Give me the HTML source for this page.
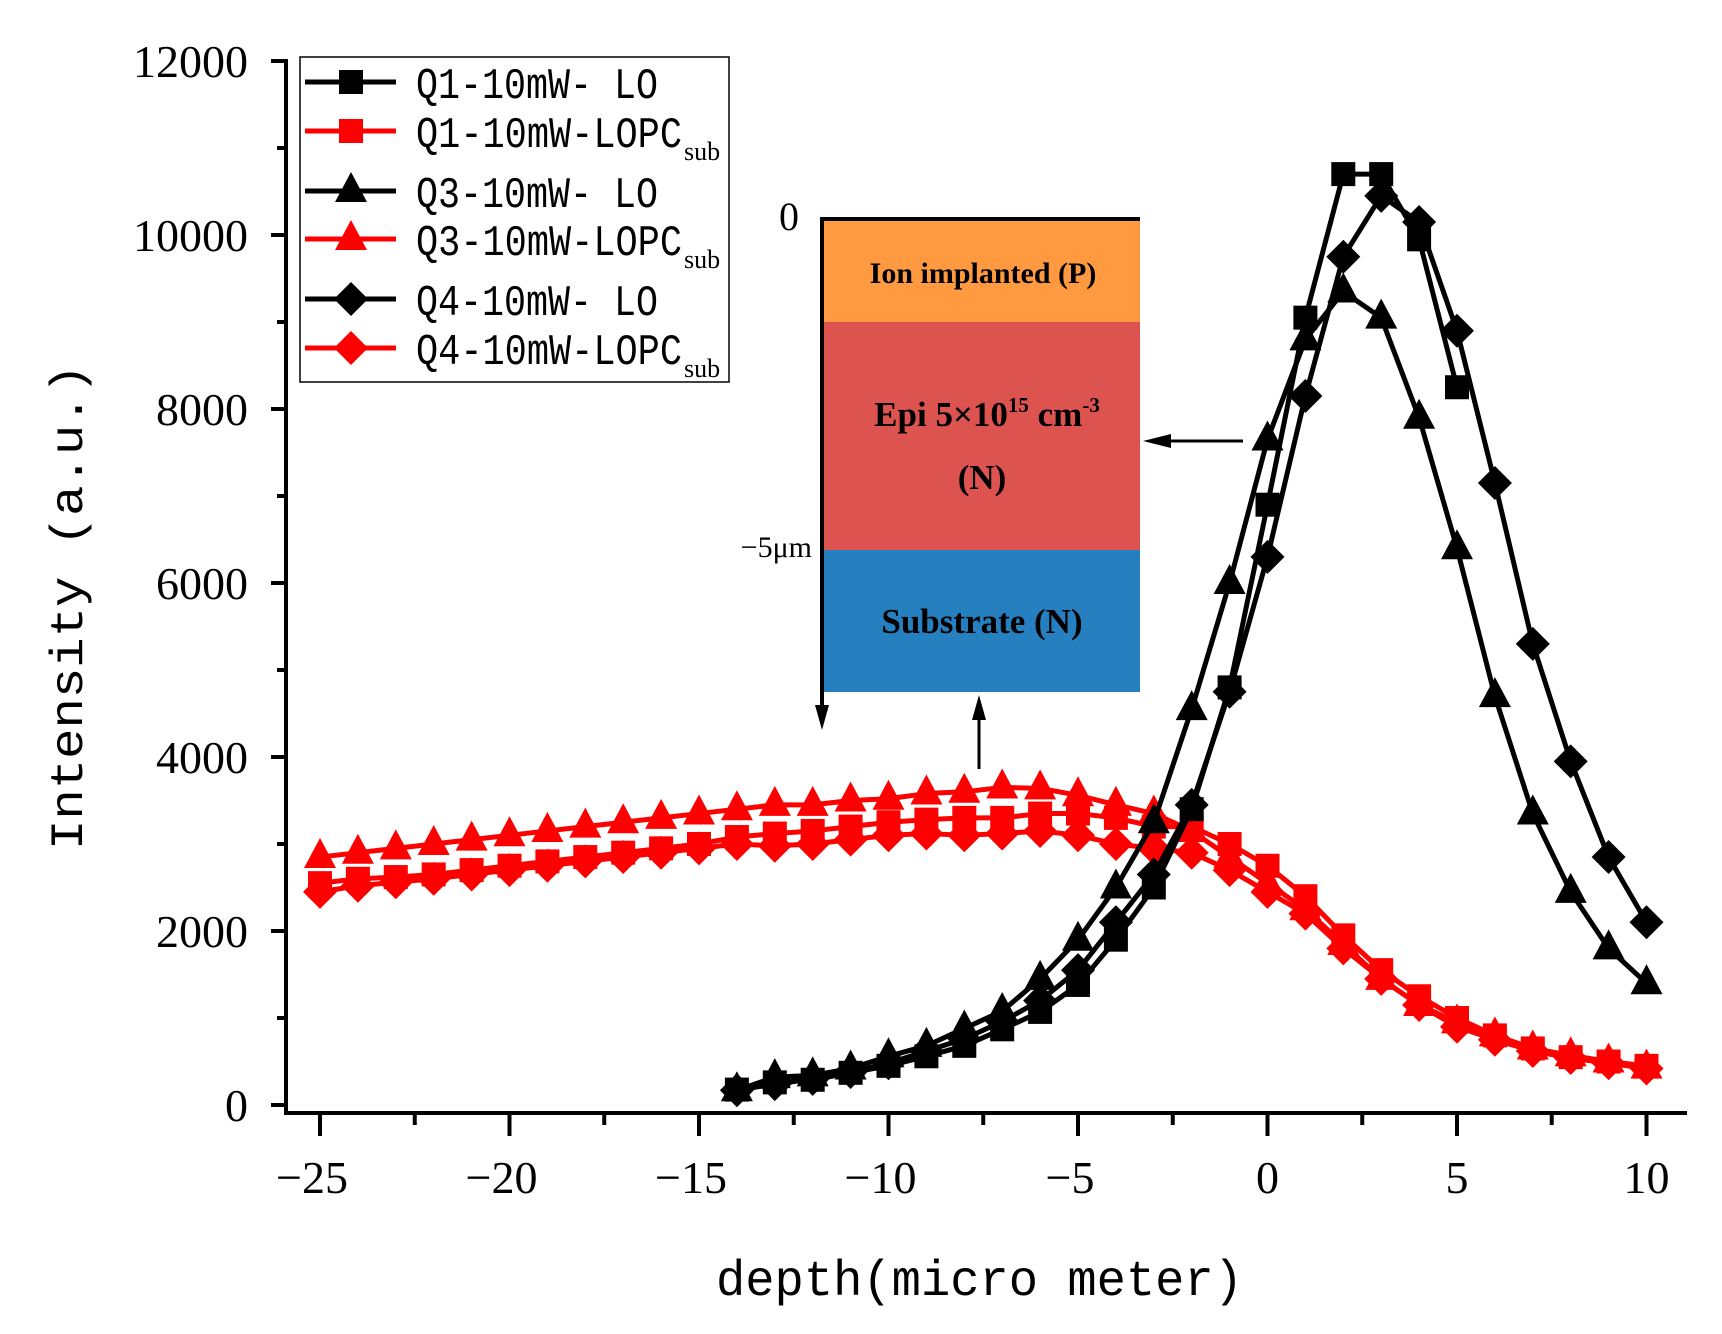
<!DOCTYPE html>
<html><head><meta charset="utf-8"><style>
html,body{margin:0;padding:0;background:#fff;}
svg{display:block;}
</style></head><body>
<svg id="chart" width="1722" height="1334" viewBox="0 0 1722 1334" xmlns="http://www.w3.org/2000/svg" font-family="'Liberation Serif', serif">
<g id="inset">
  <rect x="822" y="217" width="318" height="105" fill="#FF9A40"/>
  <rect x="822" y="322" width="318" height="228" fill="#DC5350"/>
  <rect x="822" y="550" width="318" height="142" fill="#2680C0"/>
  <line x1="820" y1="219" x2="1140" y2="219" stroke="#000" stroke-width="4"/>
  <line x1="822" y1="217" x2="822" y2="712" stroke="#000" stroke-width="4"/>
  <polygon points="815,705 829,705 822,730" fill="#000"/>
  <text x="789" y="230" font-size="40" text-anchor="middle">0</text>
  <text x="812" y="557" font-size="30" text-anchor="end">−5μm</text>
  <text x="983" y="283" font-size="30" font-weight="bold" text-anchor="middle">Ion implanted (P)</text>
  <text x="987" y="426" font-size="35" font-weight="bold" text-anchor="middle">Epi 5×10<tspan font-size="21" dy="-14">15</tspan><tspan dy="14"> cm</tspan><tspan font-size="21" dy="-14">-3</tspan></text>
  <text x="982" y="489" font-size="35" font-weight="bold" text-anchor="middle">(N)</text>
  <text x="982" y="633" font-size="35" font-weight="bold" text-anchor="middle">Substrate (N)</text>
  <line x1="1243" y1="441" x2="1158" y2="441" stroke="#000" stroke-width="3"/>
  <polygon points="1143,441 1171,434 1171,448" fill="#000"/>
  <line x1="979" y1="769" x2="979" y2="710" stroke="#000" stroke-width="3"/>
  <polygon points="979,695 972,720 986,720" fill="#000"/>
</g>
<g id="axes"></g>
<g id="series"></g>
<g id="legend"></g>
</svg>
<script>
const xTicks = [-25,-20,-15,-10,-5,0,5,10];
const yTicks = [0,2000,4000,6000,8000,10000,12000];
const xBlack = [-14,-13,-12,-11,-10,-9,-8,-7,-6,-5,-4,-3,-2,-1,0,1,2,3,4,5,6,7,8,9,10];
const xRed = [-25,-24,-23,-22,-21,-20,-19,-18,-17,-16,-15,-14,-13,-12,-11,-10,-9,-8,-7,-6,-5,-4,-3,-2,-1,0,1,2,3,4,5,6,7,8,9,10];
const q1LO = [177,260,290,370,450,560,680,870,1070,1380,1900,2500,3400,4800,6900,9050,10700,10700,9950,8250];
const q3LO = [170,320,340,420,560,680,880,1080,1450,1900,2500,3250,4550,6000,7650,8800,9350,9050,7900,6400,4700,3350,2450,1800,1400];
const q4LO = [170,240,300,380,480,620,760,960,1200,1550,2100,2650,3450,4750,6300,8150,9750,10450,10150,8900,7150,5300,3950,2850,2100];
const q3LOPC = [2850,2900,2950,3000,3050,3100,3150,3200,3250,3300,3350,3400,3450,3450,3500,3520,3580,3600,3650,3640,3560,3450,3350,3150,2850,2550,2250,1850,1450,1150,950,800,650,570,500,430];
const q1LOPC = [2550,2600,2620,2650,2700,2750,2800,2850,2900,2950,3000,3080,3120,3150,3200,3250,3280,3300,3300,3350,3350,3300,3200,3200,3000,2750,2400,1950,1550,1250,1000,800,650,550,500,450];
const q4LOPC = [2450,2520,2560,2600,2650,2700,2750,2800,2850,2900,2950,3000,2980,3000,3050,3100,3120,3100,3120,3150,3100,3000,2950,2900,2700,2450,2200,1800,1450,1150,900,750,620,540,480,420];
const legendLabels = ["Q1-10mW- LO","Q1-10mW-LOPC","Q3-10mW- LO","Q3-10mW-LOPC","Q4-10mW- LO","Q4-10mW-LOPC"];

const NS="http://www.w3.org/2000/svg";
const X = v => 1267.5 + v*37.9;
const Y = v => 1105 - v*0.087;
function mk(tag, parent, attrs){const e=document.createElementNS(NS,tag);for(const k in attrs)e.setAttribute(k,attrs[k]);parent.appendChild(e);return e;}

const axes=document.getElementById('axes');
let el;
el=mk('line',axes,{x1:286,y1:59,x2:286,y2:1115,stroke:'#000','stroke-width':4});


el=mk('line',axes,{x1:284,y1:1113,x2:1687,y2:1113,stroke:'#000','stroke-width':4});


for(let v=0; v<=12000; v+=1000){
  const major = v%2000===0;
  el=mk('line',axes,{x1:major?271:277,y1:Y(v),x2:286,y2:Y(v),stroke:'#000','stroke-width':4});
  
  
}
yTicks.forEach(v=>{
  el=mk('text',axes,{x:248,y:Y(v)+16,'font-size':46,'text-anchor':'end'});
  el.textContent=v;
  
  
});
for(let v=-25; v<=10; v+=2.5){
  const major = v%5===0;
  el=mk('line',axes,{x1:X(v),y1:1113,x2:X(v),y2:major?1136:1125,stroke:'#000','stroke-width':4});
  
  
}
xTicks.forEach(v=>{
  el=mk('text',axes,{x:X(v)-(v<0?8:0),y:1193,'font-size':46,'text-anchor':'middle'});
  el.textContent=v<0?('−'+(-v)):String(v);
  
  
});
el=mk('text',axes,{x:716,y:1295,'font-size':50,'font-family':"'Liberation Mono', monospace",textLength:527,lengthAdjust:'spacingAndGlyphs'});
el.textContent='depth(micro meter)';


el=mk('text',axes,{x:0,y:0,'font-size':46,'font-family':"'Liberation Mono', monospace",textLength:486,lengthAdjust:'spacingAndGlyphs',transform:'translate(82,850) rotate(-90)'});
el.textContent='Intensity (a.u.)';



function marker(parent, type, cx, cy, color, scale){
  const s=scale||1; let m;
  if(type==='square') m=mk('rect',parent,{x:cx-12*s,y:cy-12*s,width:24*s,height:24*s,fill:color});
  else if(type==='triangle') m=mk('polygon',parent,{points:`${cx},${cy-19*s} ${cx-16*s},${cy+11*s} ${cx+16*s},${cy+11*s}`,fill:color});
  else m=mk('polygon',parent,{points:`${cx},${cy-17*s} ${cx+17*s},${cy} ${cx},${cy+17*s} ${cx-17*s},${cy}`,fill:color});
  return m;
}
const seriesG=document.getElementById('series');
const seriesDefs=[
  {name:'q3-lopc-series',xs:xRed,ys:q3LOPC,type:'triangle',color:'#FF0000'},
  {name:'q1-lopc-series',xs:xRed,ys:q1LOPC,type:'square',color:'#FF0000'},
  {name:'q4-lopc-series',xs:xRed,ys:q4LOPC,type:'diamond',color:'#FF0000'},
  {name:'q1-lo-series',xs:xBlack,ys:q1LO,type:'square',color:'#000000'},
  {name:'q3-lo-series',xs:xBlack,ys:q3LO,type:'triangle',color:'#000000'},
  {name:'q4-lo-series',xs:xBlack,ys:q4LO,type:'diamond',color:'#000000'}
];
seriesDefs.forEach(s=>{
  const g=mk('g',seriesG,{});
  
  
  const pts=s.ys.map((v,i)=>X(s.xs[i])+','+Y(v)).join(' ');
  const pl=mk('polyline',g,{points:pts,fill:'none',stroke:s.color,'stroke-width':5,'stroke-linejoin':'round'});
  
  
  s.ys.forEach((v,i)=>{
    const m=marker(g,s.type,X(s.xs[i]),Y(v),s.color);
    
    
  });
});

const lg=document.getElementById('legend');
el=mk('rect',lg,{x:300,y:57,width:429,height:325,fill:'#fff',stroke:'#000','stroke-width':1.5});


const rowY=[82,131,191,239,299,348];
const types=['square','square','triangle','triangle','diamond','diamond'];
legendLabels.forEach((lab,i)=>{
  const color=i%2===0?'#000':'#FF0000';
  const g=mk('g',lg,{});
  
  
  mk('line',g,{x1:305,y1:rowY[i],x2:396,y2:rowY[i],stroke:color,'stroke-width':5});
  marker(g,types[i],351,rowY[i],color,1.0);
  const isSub=i%2===1;
  const t=mk('text',g,{x:416,y:rowY[i]+16,'font-size':44,'font-family':"'Liberation Mono', monospace",textLength:isSub?266:242,lengthAdjust:'spacingAndGlyphs'});
  t.textContent=lab;
  if(isSub){
    const s=mk('text',g,{x:684,y:rowY[i]+29,'font-size':26,'font-family':"'Liberation Serif', serif"});
    s.textContent='sub';
  }
});
</script>
</body></html>
